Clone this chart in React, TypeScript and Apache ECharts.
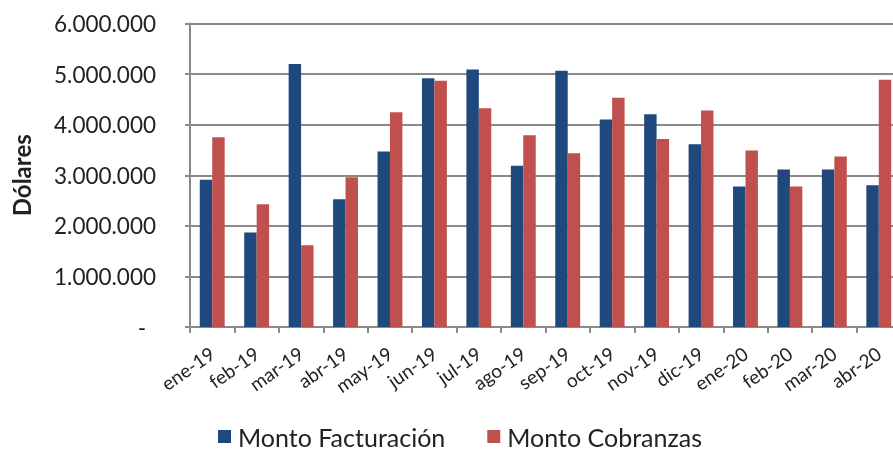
import React, { useEffect, useRef } from "react";
import * as echarts from "echarts";

const categories = ["ene-19", "feb-19", "mar-19", "abr-19", "may-19", "jun-19", "jul-19", "ago-19", "sep-19", "oct-19", "nov-19", "dic-19", "ene-20", "feb-20", "mar-20", "abr-20"];
const facturacion = [2910000, 1866000, 5197000, 2526000, 3468000, 4920000, 5090000, 3190000, 5064000, 4100000, 4207000, 3614000, 2776000, 3112000, 3112000, 2803000];
const cobranzas = [3750000, 2427000, 1616000, 2961000, 4247000, 4866000, 4326000, 3792000, 3436000, 4530000, 3719000, 4280000, 3488000, 2776000, 3369000, 4886000];
const seriesNames = ["Monto Facturación", "Monto Cobranzas"];
const yAxisName = "Dólares";

const FONT = "Lato, 'Open Sans', sans-serif";
const fmt = (v: number) => String(v).replace(/\B(?=(\d{3})+(?!\d))/g, ".");

export default function App() {
  const ref = useRef<HTMLDivElement>(null);
  useEffect(() => {
    if (!ref.current) return;
    const chart = echarts.init(ref.current, undefined, { renderer: "svg" });
    const gridLine = { color: "#8a8a8a", width: 2 };
    chart.setOption({
      animation: false,
      textStyle: { fontFamily: FONT },
      grid: { left: 190, width: 711, top: 23.5, height: 303.5, containLabel: false, outerBoundsMode: "none" },
      legend: {
        left: 218,
        top: 424,
        padding: 0,
        itemWidth: 13,
        itemHeight: 13,
        itemGap: 42,
        icon: "rect",
        textStyle: { fontFamily: FONT, fontSize: 25, lineHeight: 25, color: "#222", padding: [0, 0, 0, 2] },
        data: seriesNames,
      },
      xAxis: {
        type: "category",
        data: categories,
        axisLine: { lineStyle: gridLine },
        axisTick: { show: true, length: 6, lineStyle: gridLine },
        axisLabel: {
          rotate: 35,
          margin: 24,
          fontFamily: FONT,
          fontSize: 19,
          color: "#222",
          interval: 0,
        },
      },
      yAxis: {
        type: "value",
        min: 0,
        max: 6000000,
        interval: 1000000,
        name: yAxisName,
        nameLocation: "middle",
        nameRotate: 90,
        nameGap: 157,
        nameTextStyle: { fontFamily: FONT, fontSize: 24, fontWeight: "bold", color: "#222" },
        axisLine: { show: true, lineStyle: gridLine },
        axisTick: { show: true, length: 5, lineStyle: gridLine },
        splitLine: { show: true, lineStyle: gridLine },
        axisLabel: {
          margin: 34,
          fontFamily: FONT,
          fontSize: 22.5,
          color: "#222",
          formatter: (v: number) => (v === 0 ? "{z|-}" : fmt(v)),
          rich: { z: { fontFamily: FONT, fontSize: 22.5, color: "#222", padding: [0, 10, 0, 0] } },
        },
      },
      series: [
        {
          name: seriesNames[0],
          type: "bar",
          data: facturacion,
          barGap: "0%",
          barCategoryGap: "44%",
          itemStyle: { color: "#1F497D" },
        },
        {
          name: seriesNames[1],
          type: "bar",
          data: cobranzas,
          itemStyle: { color: "#C0504D" },
        },
      ],
    });
    return () => chart.dispose();
  }, []);
  return <div ref={ref} style={{ position: "fixed", left: 0, top: 0, width: 893, height: 450 }} />;
}
